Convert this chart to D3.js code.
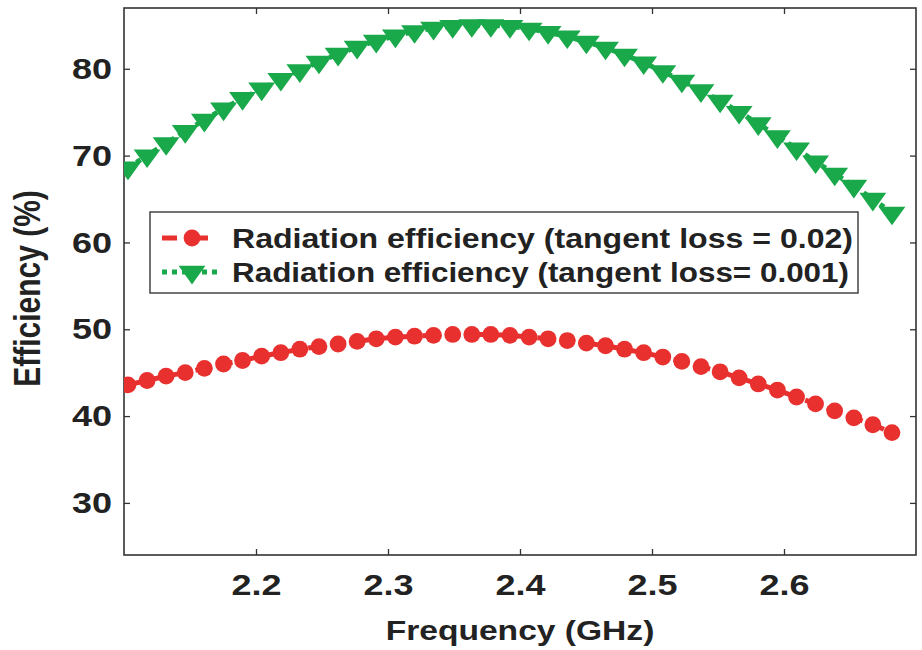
<!doctype html>
<html>
  <head>
    <script src="https://d3js.org/d3.v7.min.js"></script>
    <style>
      body { margin: 0; background: #fff; }
      text { font-family: "Liberation Sans", Arial, sans-serif; font-weight: bold; fill: #222; }
    </style>
  </head>
  <body>
    <div id="graphic"></div>
    <script>

// Data
var freq = [2.1030, 2.1175, 2.1319, 2.1464, 2.1609, 2.1754, 2.1898, 2.2043, 2.2188, 2.2332,
            2.2477, 2.2622, 2.2766, 2.2911, 2.3056, 2.3201, 2.3345, 2.3490, 2.3635, 2.3779,
            2.3924, 2.4069, 2.4213, 2.4358, 2.4503, 2.4648, 2.4792, 2.4937, 2.5082, 2.5226,
            2.5371, 2.5516, 2.5660, 2.5805, 2.5950, 2.6095, 2.6239, 2.6384, 2.6529, 2.6673,
            2.6818];

var effLoss002 = [43.6, 44.1, 44.6, 45.0, 45.5, 46.0, 46.4, 46.9, 47.3, 47.7,
                  48.0, 48.3, 48.6, 48.9, 49.1, 49.2, 49.3, 49.4, 49.4, 49.4,
                  49.3, 49.1, 48.9, 48.7, 48.4, 48.1, 47.7, 47.3, 46.8, 46.3,
                  45.7, 45.1, 44.4, 43.7, 43.0, 42.2, 41.4, 40.6, 39.8, 39.0,
                  38.1];

var effLoss0001 = [68.6, 70.0, 71.4, 72.8, 74.1, 75.4, 76.6, 77.7, 78.8, 79.8,
                   80.8, 81.7, 82.5, 83.2, 83.8, 84.3, 84.7, 84.9, 85.0, 85.0,
                   84.9, 84.6, 84.2, 83.7, 83.1, 82.4, 81.6, 80.7, 79.7, 78.6,
                   77.5, 76.3, 75.0, 73.7, 72.2, 70.8, 69.3, 67.9, 66.5, 65.0,
                   63.4];

var xTicks = [2.2, 2.3, 2.4, 2.5, 2.6];
var yTicks = [30, 40, 50, 60, 70, 80];
var seriesNames = ["Radiation efficiency (tangent loss = 0.02)",
                   "Radiation efficiency (tangent loss= 0.001)"];

var red = "#e8302f", green = "#19a84a";
var stretch = 1.2; // the original picture is a bit wider than tall

// Set borders
var margin = {top: 8, right: 6, bottom: 95, left: 124};
var width = 922 - margin.left - margin.right,
    height = 650 - margin.top - margin.bottom;

var svg = d3.select("#graphic").append("svg")
    .attr("width", 922)
    .attr("height", 650)
  .append("g")
    .attr("transform", "translate(" + margin.left + "," + margin.top + ")");

var xScale = d3.scaleLinear().domain([2.1, 2.7]).range([0, width]);
var yScale = d3.scaleLinear().domain([24, 87]).range([height, 0]);

svg.append("clipPath").attr("id", "plotclip")
  .append("rect").attr("width", width).attr("height", height);

// axes (ticks pointing inward, box on all sides)
var xAxisG = svg.append("g")
    .attr("transform", "translate(0," + height + ")")
    .call(d3.axisBottom(xScale).tickValues(xTicks).tickFormat(d3.format(".1f"))
      .tickSizeInner(-6).tickSizeOuter(0).tickPadding(19))
    .call(g => g.select(".domain").remove());

svg.append("g")
    .call(d3.axisTop(xScale).tickValues(xTicks).tickFormat("")
      .tickSizeInner(-6).tickSizeOuter(0))
    .call(g => g.select(".domain").remove());

var yAxisG = svg.append("g")
    .call(d3.axisLeft(yScale).tickValues(yTicks)
      .tickSizeInner(-6).tickSizeOuter(0).tickPadding(12))
    .call(g => g.select(".domain").remove());

svg.append("g")
    .attr("transform", "translate(" + width + ",0)")
    .call(d3.axisRight(yScale).tickValues(yTicks).tickFormat("")
      .tickSizeInner(-6).tickSizeOuter(0))
    .call(g => g.select(".domain").remove());

svg.selectAll(".tick line").attr("stroke", "#333").attr("stroke-width", 1.3);
svg.selectAll(".tick text")
    .style("font-size", "30px")
    .style("font-family", "'Liberation Sans', Arial, sans-serif")
    .style("font-weight", "bold")
    .attr("fill", "#222");

xAxisG.selectAll(".tick text").attr("transform", "scale(" + stretch + ",1)");
yAxisG.selectAll(".tick text")
    .attr("x", -12 / stretch)
    .attr("transform", "scale(" + stretch + ",1)");

svg.append("rect")
    .attr("width", width)
    .attr("height", height)
    .attr("fill", "none")
    .attr("stroke", "#333")
    .attr("stroke-width", 1.6);

// lines + markers
var plot = svg.append("g").attr("clip-path", "url(#plotclip)");

var line = d3.line()
    .x((d, i) => xScale(freq[i]))
    .y(d => yScale(d));

plot.append("path")
    .datum(effLoss002)
    .attr("d", line)
    .attr("fill", "none")
    .attr("stroke", red)
    .attr("stroke-width", 5)
    .attr("stroke-dasharray", "15,8");

plot.append("path")
    .datum(effLoss0001)
    .attr("d", line)
    .attr("fill", "none")
    .attr("stroke", green)
    .attr("stroke-width", 5)
    .attr("stroke-dasharray", "5,5");

var tri = d3.symbol().type(d3.symbolTriangle).size(200);

plot.selectAll(".circ")
    .data(effLoss002)
    .enter()
    .append("circle")
    .attr("cx", (d, i) => xScale(freq[i]))
    .attr("cy", d => yScale(d))
    .attr("r", 8.4)
    .attr("fill", red);

plot.selectAll(".tri")
    .data(effLoss0001)
    .enter()
    .append("path")
    .attr("d", tri)
    .attr("transform", (d, i) => "translate(" + xScale(freq[i]) + "," + yScale(d) + ") rotate(180) scale(1.25,1)")
    .attr("fill", green);

// Legend
var legend = svg.append("g").attr("transform", "translate(26,204)");

legend.append("rect")
    .attr("width", 708)
    .attr("height", 81)
    .attr("fill", "#fff")
    .attr("stroke", "#444")
    .attr("stroke-width", 1.5);

var rows = [
  {name: seriesNames[0], color: red, dash: "15,16", y: 26},
  {name: seriesNames[1], color: green, dash: "5,5", y: 60}
];

rows.forEach(function(r, k) {
  legend.append("line")
    .attr("x1", 12).attr("x2", 72)
    .attr("y1", r.y).attr("y2", r.y)
    .attr("stroke", r.color)
    .attr("stroke-width", 5)
    .attr("stroke-dasharray", r.dash);
  if (k === 0) {
    legend.append("circle").attr("cx", 42).attr("cy", r.y).attr("r", 8.4).attr("fill", r.color);
  } else {
    legend.append("path").attr("d", tri)
      .attr("transform", "translate(42," + r.y + ") rotate(180) scale(1.25,1)")
      .attr("fill", r.color);
  }
  legend.append("text")
    .attr("x", 82)
    .attr("y", r.y + 10)
    .attr("textLength", k === 0 ? 621 : 617)
    .attr("lengthAdjust", "spacingAndGlyphs")
    .style("font-size", "27px")
    .text(r.name);
});

// Axis titles
svg.append("text")
    .attr("text-anchor", "middle")
    .attr("transform", "translate(" + (width / 2) + "," + (height + 85) + ") scale(" + stretch + ",1)")
    .style("font-size", "28px")
    .text("Frequency (GHz)");

svg.append("text")
    .attr("text-anchor", "middle")
    .attr("transform", "translate(-84," + (height / 2 + 7) + ") rotate(-90) scale(1," + stretch + ")")
    .style("font-size", "30px")
    .text("Efficiency (%)");

    </script>
  </body>
</html>
